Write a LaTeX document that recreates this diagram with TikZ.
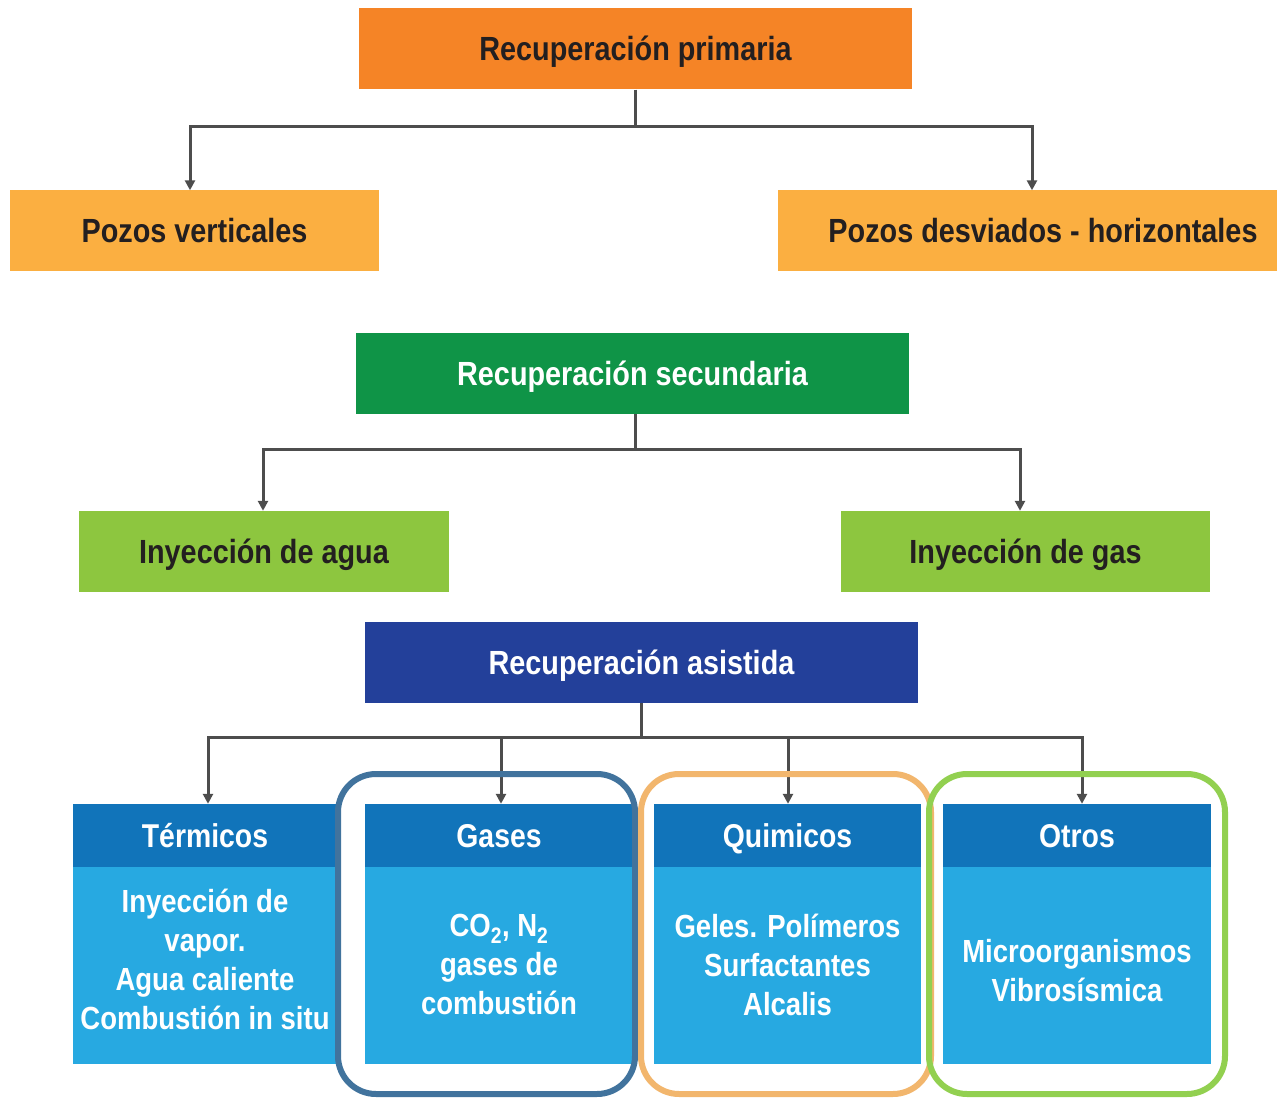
\documentclass[tikz,border=0pt]{standalone}
\usepackage{fontspec}
\setmainfont{Liberation Sans}[FakeStretch=0.86]
\usetikzlibrary{arrows.meta}
\definecolor{orng}{HTML}{F58426}
\definecolor{lorng}{HTML}{FBAF41}
\definecolor{grn}{HTML}{0F9447}
\definecolor{lgrn}{HTML}{8DC63F}
\definecolor{dblue}{HTML}{23409A}
\definecolor{hblue}{HTML}{1174BA}
\definecolor{bblue}{HTML}{27A9E1}
\definecolor{oblue}{HTML}{41739D}
\definecolor{oorng}{HTML}{F2B66D}
\definecolor{ogrn}{HTML}{92D050}
\definecolor{linec}{HTML}{4D4D4D}
\definecolor{dtext}{HTML}{231F20}
\tikzset{
  boxs/.style={inner sep=0pt, minimum height=81pt, text height=24pt, text depth=0pt,
    font=\bfseries\fontsize{33.5}{38}\selectfont},
  darkt/.style={text=dtext},
  whitet/.style={text=white},
  hbox/.style={inner sep=0pt, minimum height=63pt, text height=24pt, text depth=0pt,
    fill=hblue, text=white, font=\bfseries\fontsize{33}{38}\selectfont},
  bbox/.style={inner sep=0pt, minimum height=197pt, fill=bblue},
  btext/.style={inner sep=0pt, text=white, align=center,
    font=\bfseries\fontsize{32}{39}\selectfont},
  conn/.style={draw=linec, line width=3pt},
  arr/.style={conn, -{Triangle[length=10pt,width=10pt]}},
  outl/.style={line width=6pt, rounded corners=38pt},
}
\begin{document}
\begin{tikzpicture}[x=1pt,y=-1pt]
\useasboundingbox (0,0) rectangle (1278,1099);
% Primaria
\node[boxs, fill=orng, darkt, minimum width=553pt] (prim) at (635.5,49) {Recuperación primaria};
\node[boxs, fill=lorng, darkt, minimum width=369pt] (pv) at (194.5,231) {Pozos verticales};
\node[boxs, fill=lorng, darkt, minimum width=499pt] (pd) at (1027.5,231) {\hspace*{31pt}Pozos desviados - horizontales};
\coordinate (j1) at (635.5,127);
\draw[conn] (prim) -- (j1);
\draw[arr] (j1) -| ([xshift=-4.5pt]pv.north);
\draw[arr] (j1) -| ([xshift=4.5pt]pd.north);
% Secundaria
\node[boxs, fill=grn, whitet, minimum width=553pt] (sec) at (632.5,373.5) {Recuperación secundaria};
\node[boxs, fill=lgrn, darkt, minimum width=370pt] (ag) at (264,551.5) {Inyección de agua};
\node[boxs, fill=lgrn, darkt, minimum width=369pt] (gs) at (1025.5,551.5) {Inyección de gas};
\coordinate (j2) at (635.5,449);
\draw[conn] (sec.south -| j2) -- (j2);
\draw[arr] (j2) -| ([xshift=-1pt]ag.north);
\draw[arr] (j2) -| ([xshift=-5.5pt]gs.north);
% Asistida
\node[boxs, fill=dblue, whitet, minimum width=553pt] (asi) at (641.5,662.5) {Recuperación asistida};
\node[hbox, minimum width=264pt] (th) at (205,835.5) {Térmicos};
\node[bbox, minimum width=264pt] (tb) at (205,965.5) {};
\node[btext] (tt) at (205,959) {Inyección de\\vapor.\\Agua caliente\\Combustión in situ};
\node[hbox, minimum width=268pt] (gh) at (499,835.5) {Gases};
\node[bbox, minimum width=268pt] (gb) at (499,965.5) {};
\node[btext] (gt) at (499,964.5) {CO\textsubscript{2}, N\textsubscript{2}\\gases de\\combustión};
\node[hbox, minimum width=267pt] (qh) at (787.5,835.5) {Quimicos};
\node[bbox, minimum width=267pt] (qb) at (787.5,965.5) {};
\node[btext] (qt) at (787.5,964.5) {Geles. Polímeros\\Surfactantes\\Alcalis};
\node[hbox, minimum width=268pt] (oh) at (1077,835.5) {Otros};
\node[bbox, minimum width=268pt] (ob) at (1077,965.5) {};
\node[btext] (ot) at (1077,970.5) {Microorganismos\\Vibrosísmica};
\coordinate (j3) at (641,737);
\draw[conn] (asi.south -| j3) -- (j3);
\draw[arr] (j3) -| ([xshift=3pt]th.north);
\draw[arr] (j3) -| ([xshift=2pt]gh.north);
\draw[arr] (j3) -| ([xshift=0.5pt]qh.north);
\draw[arr] (j3) -| ([xshift=5pt]oh.north);
% outlines
\draw[outl, draw=oblue] (338,774) rectangle (635,1094);
\draw[outl, draw=oorng] (641,774) rectangle (931,1094);
\draw[outl, draw=ogrn] (929,774) rectangle (1225,1094);
\end{tikzpicture}
\end{document}
